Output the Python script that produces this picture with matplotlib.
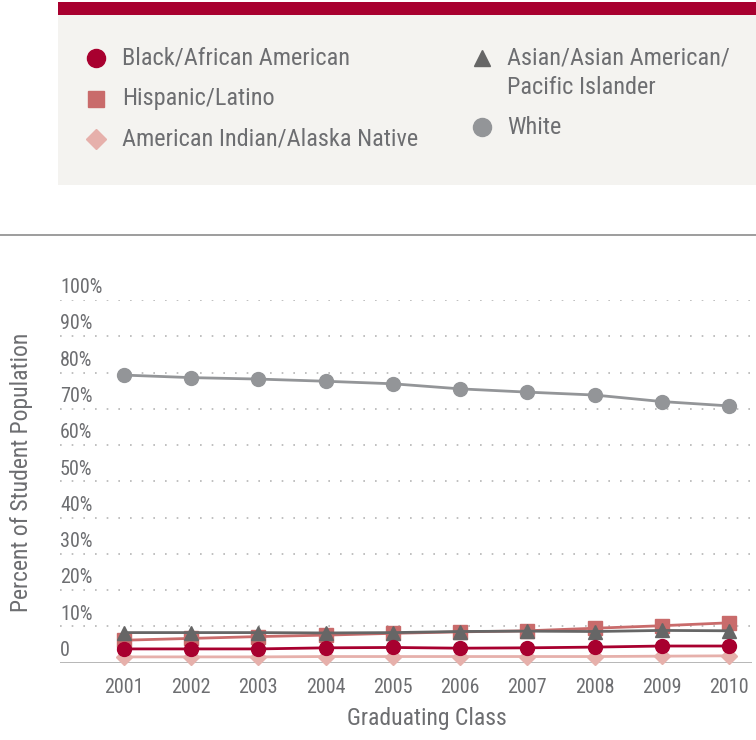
import matplotlib
matplotlib.use("Agg")
import matplotlib.pyplot as plt
from matplotlib import font_manager
from matplotlib.patches import Rectangle
from matplotlib.lines import Line2D
import matplotlib.transforms as mtransforms

years = [2001, 2002, 2003, 2004, 2005, 2006, 2007, 2008, 2009, 2010]
white = [79.3, 78.6, 78.2, 77.6, 76.9, 75.5, 74.6, 73.8, 72.0, 70.8]
asian = [8.3, 8.3, 8.3, 8.2, 8.3, 8.6, 8.7, 8.6, 8.9, 8.8]
hispanic = [6.2, 6.7, 7.2, 7.6, 8.1, 8.5, 8.8, 9.5, 10.2, 11.0]
black = [3.8, 3.8, 3.8, 4.1, 4.2, 4.0, 4.1, 4.3, 4.6, 4.6]
amindian = [1.6, 1.6, 1.6, 1.7, 1.7, 1.7, 1.7, 1.7, 1.8, 1.9]
ytick_vals = [0, 10, 20, 30, 40, 50, 60, 70, 80, 90, 100]
ytick_labels = ['0', '10%', '20%', '30%', '40%', '50%', '60%', '70%', '80%', '90%', '100%']

names = {f.name for f in font_manager.fontManager.ttflist}
fam = 'Roboto'
for cand in ['Liberation Sans Narrow', 'Roboto Condensed', 'Open Sans Condensed', 'Roboto']:
    if cand in names:
        fam = cand
        break
plt.rcParams['font.family'] = [fam, 'DejaVu Sans']

TXT = '#6d6e71'
C_BLACK = '#a8002f'
C_HISP = '#c96b6b'
C_AMIND = '#e6b0ab'
C_ASIAN = '#666666'
C_WHITE = '#939598'

W, H = 756, 740
fig = plt.figure(figsize=(W / 100, H / 100), dpi=100)

def fx(px):
    return px / W

def fy(py):
    return 1 - py / H

# Legend panel
fig.patches.append(Rectangle((fx(58), fy(185)), fx(756 - 58), (185 - 15) / H,
                             transform=fig.transFigure, facecolor='#f4f3f0', edgecolor='none'))
fig.patches.append(Rectangle((fx(58), fy(15)), fx(756 - 58), 13 / H,
                             transform=fig.transFigure, facecolor=C_BLACK, edgecolor='none'))
fig.lines.append(Line2D([0, 1], [fy(235), fy(235)], transform=fig.transFigure,
                        color='#8c8c8c', lw=1.2))

leg_markers = [
    (96, 58, 'o', C_BLACK, 13),
    (96, 99, 's', C_HISP, 12),
    (96, 139, 'D', C_AMIND, 10),
    (482, 58, '^', C_ASIAN, 12),
    (482, 127, 'o', C_WHITE, 13),
]
for mx, my, mk, col, ms in leg_markers:
    fig.lines.append(Line2D([fx(mx)], [fy(my)], transform=fig.transFigure, marker=mk,
                            color=col, markersize=ms, linestyle='none'))

leg_texts = [
    (122, 58, 'Black/African American'),
    (122, 99, 'Hispanic/Latino'),
    (122, 139, 'American Indian/Alaska Native'),
    (507, 58, 'Asian/Asian American/'),
    (507, 87, 'Pacific Islander'),
    (507, 127, 'White'),
]
for tx, ty, lab in leg_texts:
    fig.text(fx(tx), fy(ty), lab, color=TXT, fontsize=17.5, va='center', ha='left')

# Axes
ax = fig.add_axes([fx(60), fy(662.7), fx(752 - 60), 362.7 / H])
ax.set_xlim(2000.05, 2010.34)
ax.set_ylim(0, 100)
for s in ax.spines.values():
    s.set_visible(False)
ax.set_yticks([])
ax.set_xticks(years)
ax.set_xticklabels([str(y) for y in years])
ax.tick_params(axis='x', length=0, pad=11, labelsize=14.5, labelcolor=TXT)

for v in ytick_vals[1:]:
    ax.axhline(v, color='#b5b5b5', lw=1.2, linestyle=(0, (1, 6)), zorder=0)
ax.axhline(0, color='#b0b0b0', lw=2, zorder=0)

trans = mtransforms.blended_transform_factory(ax.transAxes, ax.transData)
for v, lab in zip(ytick_vals, ytick_labels):
    ax.annotate(lab, xy=(0, v), xycoords=trans, xytext=(0, 2), textcoords='offset points',
                ha='left', va='bottom', fontsize=14.5, color=TXT)

series = [
    (white, C_WHITE, 'o', 10),
    (amindian, C_AMIND, 'D', 8),
    (hispanic, C_HISP, 's', 10),
    (asian, C_ASIAN, '^', 10),
    (black, C_BLACK, 'o', 10),
]
for vals, col, mk, ms in series:
    ax.plot(years, vals, color=col, marker=mk, markersize=ms, lw=2, clip_on=False)

ax.set_xlabel('Graduating Class', fontsize=17, color=TXT, labelpad=7)
ax.xaxis.label.set_x((sum([years[0], years[-1]]) / 2 - 2000.05) / (2010.34 - 2000.05))
fig.text(fx(22), fy(472), 'Percent of Student Population', rotation=90, fontsize=17,
         color=TXT, ha='center', va='center')

fig.savefig('out.png', dpi=100)
